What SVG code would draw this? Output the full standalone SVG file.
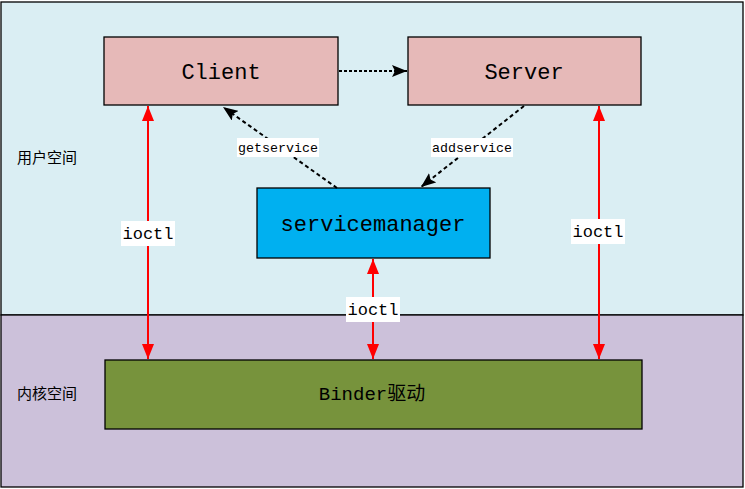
<svg xmlns="http://www.w3.org/2000/svg" width="745" height="489" viewBox="0 0 745 489">
<style>
.box{stroke:#000;stroke-width:1.3}
.t{font-family:"Liberation Mono","Noto Sans CJK SC",monospace;fill:#000;text-anchor:middle}
.zh{font-family:"Noto Sans CJK SC",sans-serif;fill:#000;font-size:15px}
.blk{stroke:#000;stroke-width:2;fill:none}
.red{stroke:#FF0000;stroke-width:2;fill:none}
.lbl{fill:#fff}
</style>
<defs>
<marker id="abk" viewBox="0 0 15 12" refX="15" refY="6" markerWidth="15" markerHeight="12" orient="auto" markerUnits="userSpaceOnUse">
<path d="M0,0 L15,6 L0,12 L3,6 z" fill="#000"/>
</marker>
<marker id="ar" viewBox="0 0 15 12" refX="15" refY="6" markerWidth="15" markerHeight="12" orient="auto-start-reverse" markerUnits="userSpaceOnUse">
<path d="M0,0 L15,6 L0,12 z" fill="#FF0000"/>
</marker>
</defs>
<g id="userspace">
<rect x="1" y="2" width="742" height="313" fill="#DAEEF3" stroke="#000" stroke-width="1.3"/>
<text class="zh" x="17" y="163">用户空间</text>
</g>
<g id="kernelspace">
<rect x="1" y="315" width="742" height="172" fill="#CCC1DA" stroke="#000" stroke-width="1.3"/>
<text class="zh" x="17" y="399">内核空间</text>
</g>
<g id="client">
<rect class="box" x="104" y="37" width="234" height="68" fill="#E6B9B8"/>
<text class="t" x="221" y="79" font-size="22">Client</text>
</g>
<g id="server">
<rect class="box" x="408" y="37" width="233" height="68" fill="#E6B9B8"/>
<text class="t" x="524" y="79" font-size="22">Server</text>
</g>
<g id="servicemanager">
<rect class="box" x="257" y="188" width="233" height="70" fill="#00B0F0"/>
<text class="t" x="373" y="231" font-size="22">servicemanager</text>
</g>
<g id="binder">
<rect class="box" x="105" y="360" width="537" height="69" fill="#77933C"/>
<text class="t" x="372" y="400" font-size="19">Binder驱动</text>
</g>
<g id="connectors">
<line class="blk" x1="339" y1="71" x2="407" y2="71" stroke-dasharray="3,2" marker-end="url(#abk)"/>
<line class="blk" x1="337" y1="188" x2="223" y2="107" stroke-dasharray="4,3" marker-end="url(#abk)"/>
<line class="blk" x1="524" y1="106" x2="421" y2="187" stroke-dasharray="4,3" marker-end="url(#abk)"/>
<line class="red" x1="148" y1="106" x2="148" y2="359" marker-start="url(#ar)" marker-end="url(#ar)"/>
<line class="red" x1="599" y1="106" x2="599" y2="359" marker-start="url(#ar)" marker-end="url(#ar)"/>
<line class="red" x1="373" y1="259" x2="373" y2="359" marker-start="url(#ar)" marker-end="url(#ar)"/>
<rect class="lbl" x="237" y="138" width="82" height="19"/>
<text class="t" x="278" y="152" font-size="13.3">getservice</text>
<rect class="lbl" x="431" y="138" width="82" height="19"/>
<text class="t" x="472" y="152" font-size="13.3">addservice</text>
<rect class="lbl" x="121" y="221" width="54" height="25"/>
<text class="t" x="148" y="239" font-size="17">ioctl</text>
<rect class="lbl" x="571" y="219" width="54" height="25"/>
<text class="t" x="598" y="237" font-size="17">ioctl</text>
<rect class="lbl" x="346" y="297" width="54" height="25"/>
<text class="t" x="373" y="315" font-size="17">ioctl</text>
</g>
</svg>
